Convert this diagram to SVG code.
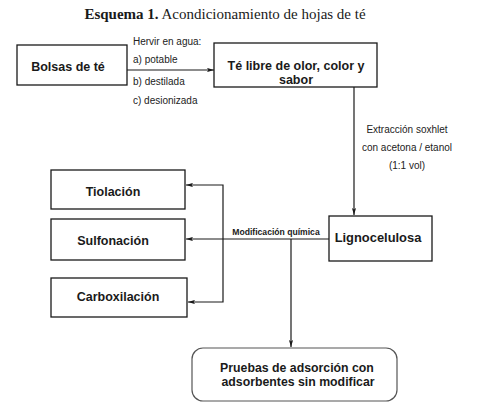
<svg xmlns="http://www.w3.org/2000/svg" width="492" height="415" viewBox="0 0 492 415">
<style>
.box{fill:#fff;stroke:#1a1a1a;stroke-width:1.3}
.bt{font-family:"Liberation Sans",Arial,sans-serif;font-weight:bold;font-size:12.5px;fill:#1a1a1a;text-anchor:middle}
.lb{font-family:"Liberation Sans",Arial,sans-serif;font-size:10px;fill:#222}
.ln{fill:none;stroke:#1a1a1a;stroke-width:1.2}
.ar{marker-end:url(#ah)}
</style>
<defs>
<marker id="ah" viewBox="0 0 10 6" refX="10" refY="3" markerWidth="7" markerHeight="4.2" markerUnits="userSpaceOnUse" orient="auto">
<path d="M0,0 L10,3 L0,6 L2,3 z" fill="#1a1a1a"/>
</marker>
</defs>
<rect width="492" height="415" fill="#fff"/>
<text x="225" y="19" text-anchor="middle" font-family="'Liberation Serif','Times New Roman',serif" font-size="15" fill="#1a1a1a"><tspan font-weight="bold">Esquema 1.</tspan> Acondicionamiento de hojas de té</text>

<g id="connectors">
<line class="ln ar" x1="127" y1="70" x2="214" y2="70"/>
<line class="ln ar" x1="354" y1="87" x2="354" y2="215"/>
<line class="ln ar" x1="329" y1="239" x2="186" y2="239"/>
<polyline class="ln ar" points="223,239 223,185 186,185"/>
<polyline class="ln ar" points="223,239 223,302 188,302"/>
<line class="ln ar" x1="291" y1="239" x2="291" y2="347"/>
<text class="lb" x="133" y="45">Hervir en agua:</text>
<text class="lb" x="133" y="63">a) potable</text>
<text class="lb" x="133" y="85">b) destilada</text>
<text class="lb" x="133" y="104">c) desionizada</text>
<text class="lb" x="407" y="133" text-anchor="middle">Extracción soxhlet</text>
<text class="lb" x="407" y="151" text-anchor="middle">con acetona / etanol</text>
<text class="lb" x="407" y="169" text-anchor="middle">(1:1 vol)</text>
<text x="276" y="235" text-anchor="middle" font-family="'Liberation Sans',Arial,sans-serif" font-weight="bold" font-size="8.6" fill="#1a1a1a">Modificación química</text>
</g>

<g id="bolsas">
<rect class="box" x="17" y="45" width="110" height="40"/>
<text class="bt" x="68" y="71">Bolsas de té</text>
</g>
<g id="te-libre">
<rect class="box" x="214" y="43" width="163" height="44"/>
<text class="bt" x="296" y="70" font-size="12.8">Té libre de olor, color y</text>
<text class="bt" x="296" y="84" font-size="12.8">sabor</text>
</g>
<g id="lignocelulosa">
<rect class="box" x="329" y="216" width="103" height="45"/>
<text class="bt" x="378" y="242" style="font-size:12.9px">Lignocelulosa</text>
</g>
<g id="tiolacion">
<rect class="box" x="51" y="170" width="134" height="39"/>
<text class="bt" x="113" y="196">Tiolación</text>
</g>
<g id="sulfonacion">
<rect class="box" x="51" y="219" width="134" height="41"/>
<text class="bt" x="113" y="245">Sulfonación</text>
</g>
<g id="carboxilacion">
<rect class="box" x="51" y="278" width="136" height="39"/>
<text class="bt" x="118" y="301">Carboxilación</text>
</g>
<g id="pruebas">
<rect x="192" y="348" width="205" height="53" rx="11" fill="#fff" stroke="#555" stroke-width="1.2"/>
<text class="bt" x="297" y="372" style="font-size:12.3px">Pruebas de adsorción con</text>
<text class="bt" x="298" y="386" style="font-size:12.3px">adsorbentes sin modificar</text>
</g>
</svg>
